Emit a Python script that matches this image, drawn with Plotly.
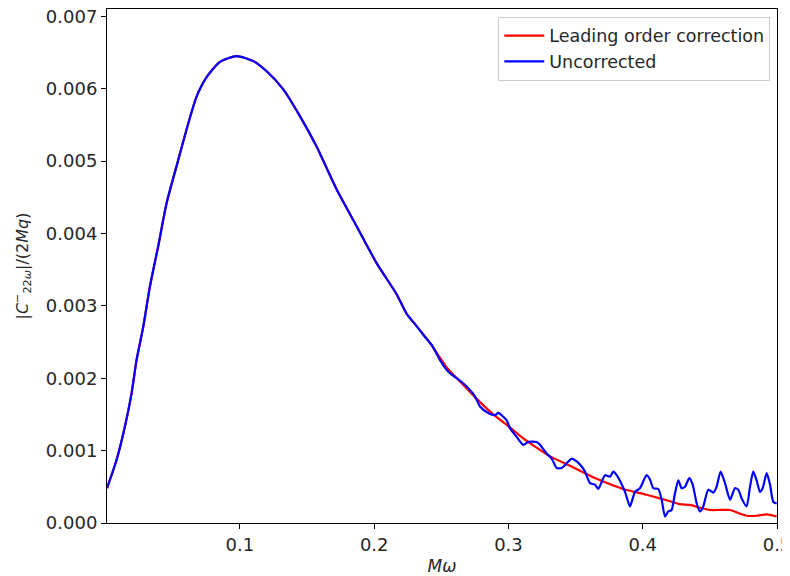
import plotly.graph_objects as go

# Shared smooth part (both curves coincide here)
x_smooth = [0.001, 0.0081, 0.0143, 0.0193, 0.023, 0.028, 0.033, 0.0391, 0.0454,
            0.0528, 0.0603, 0.0677, 0.0752, 0.0851, 0.0975, 0.110, 0.1199, 0.1323,
            0.1447, 0.1571, 0.172, 0.1869, 0.2018, 0.2167, 0.2242]
y_smooth = [0.00048, 0.00087, 0.00133, 0.00179, 0.00225, 0.00271, 0.00327, 0.00382, 0.00442,
            0.00493, 0.00544, 0.00589, 0.00616, 0.00637, 0.00645, 0.00638, 0.00624, 0.00599,
            0.00562, 0.00520, 0.00461, 0.00410, 0.00359, 0.00316, 0.00289]

# Tail of the leading-order-corrected curve
x_red_tail = [0.2316, 0.2415, 0.254, 0.2663, 0.2788, 0.2887, 0.3011, 0.311, 0.3235, 0.331,
              0.3458, 0.3657, 0.3855, 0.4029, 0.4128, 0.4203, 0.4277, 0.4352, 0.4426, 0.45,
              0.4575, 0.465, 0.4724, 0.4774, 0.4848, 0.4923, 0.4998]
y_red_tail = [0.00272, 0.00249, 0.00215, 0.00191, 0.00167, 0.00150, 0.00132, 0.00117, 0.00101, 0.00092,
              0.00079, 0.00061, 0.00047, 0.00039, 0.00034, 0.00030, 0.00026, 0.00025, 0.00021, 0.00018,
              0.00018, 0.00018, 0.00013, 0.00010, 0.00010, 0.00012, 0.00009]

# Tail of the uncorrected (noisy) curve
x_blue_tail = [0.2316, 0.2365, 0.2428, 0.249, 0.2552, 0.2614, 0.2663, 0.2701, 0.275, 0.2788,
               0.2849, 0.29, 0.2924, 0.2986, 0.3011, 0.3061, 0.311, 0.3147, 0.321, 0.3235,
               0.3284, 0.3322, 0.3359, 0.3396, 0.3421, 0.3471, 0.3508, 0.3545, 0.357, 0.3607,
               0.3644, 0.3669, 0.3719, 0.3756, 0.3781, 0.3806, 0.3868, 0.3905, 0.3942, 0.3979,
               0.4029, 0.4054, 0.4079, 0.4116, 0.4141, 0.4166, 0.419, 0.4215, 0.424, 0.4265,
               0.429, 0.4315, 0.4347, 0.4372, 0.4402, 0.4426, 0.4451, 0.4488, 0.4526, 0.455,
               0.458, 0.4613, 0.465, 0.4687, 0.4712, 0.4737, 0.4774, 0.4799, 0.4823, 0.4848,
               0.4873, 0.4893, 0.4923, 0.4948, 0.4973, 0.4998]
y_blue_tail = [0.00272, 0.00260, 0.00246, 0.00225, 0.00209, 0.00200, 0.00193, 0.00186, 0.00175, 0.00161,
               0.00152, 0.00149, 0.00152, 0.00142, 0.00131, 0.00119, 0.00108, 0.00112, 0.00112, 0.00108,
               0.00096, 0.00089, 0.00076, 0.00076, 0.00080, 0.00089, 0.00085, 0.00078, 0.00071, 0.00055,
               0.00053, 0.00047, 0.00066, 0.00064, 0.00071, 0.00066, 0.00043, 0.00023, 0.00043, 0.00048,
               0.00066, 0.00060, 0.00048, 0.00047, 0.00032, 0.00009, 0.00016, 0.00018, 0.00041, 0.00059,
               0.00048, 0.00050, 0.00062, 0.00053, 0.00027, 0.00016, 0.00023, 0.00046, 0.00042, 0.00050,
               0.00071, 0.00055, 0.00032, 0.00048, 0.00046, 0.00034, 0.00023, 0.00050, 0.00071, 0.00059,
               0.00043, 0.00048, 0.00069, 0.00053, 0.00029, 0.00027]

x_ticks = [0.1, 0.2, 0.3, 0.4, 0.5]
y_ticks = [0.000, 0.001, 0.002, 0.003, 0.004, 0.005, 0.006, 0.007]

FONT = "DejaVu Sans"
TXT = "#262626"

fig = go.Figure()
fig.add_trace(go.Scatter(x=x_smooth + x_red_tail, y=y_smooth + y_red_tail, mode="lines",
                         name="Leading order correction",
                         line=dict(color="#ff0000", width=2.2, shape="spline", smoothing=0.6)))
fig.add_trace(go.Scatter(x=x_smooth + x_blue_tail, y=y_smooth + y_blue_tail, mode="lines",
                         name="Uncorrected",
                         line=dict(color="#0000ff", width=2.2, shape="spline", smoothing=0.6)))

axis_common = dict(showline=True, linecolor="black", linewidth=1, mirror=True,
                   ticks="outside", ticklen=5, tickwidth=1, tickcolor="black",
                   showgrid=False, zeroline=False, automargin=False,
                   ticklabeloverflow="allow",
                   tickfont=dict(family=FONT, size=18, color=TXT))

# The page body adds an 8 px offset, so the figure is sized 8 px smaller in each direction
fig.update_layout(
    width=782, height=568,
    margin=dict(l=99, r=13, t=1, b=53),
    paper_bgcolor="white", plot_bgcolor="white",
    font=dict(family=FONT, size=17, color=TXT),
    xaxis=dict(range=[0.001, 0.5], tickvals=x_ticks, ticktext=[f"{v:.1f}" for v in x_ticks],
               title=dict(text="<i>Mω</i>", font=dict(family=FONT, size=17, color=TXT), standoff=6),
               **axis_common),
    yaxis=dict(range=[0, 0.0071], tickvals=y_ticks, ticktext=[f"{v:.3f}" for v in y_ticks],
               title=dict(text="|<i>C</i><sup>−</sup><sub>22<i>ω</i></sub>|/(2<i>Mq</i>)",
                          font=dict(family=FONT, size=16, color=TXT), standoff=13),
               **axis_common),
    legend=dict(x=0.99, y=0.985, xanchor="right", yanchor="top",
                bgcolor="rgba(255,255,255,0.8)", bordercolor="#cccccc", borderwidth=1,
                font=dict(family=FONT, size=17.5, color=TXT),
                itemwidth=40, tracegroupgap=2),
    showlegend=True,
)

fig.write_html("out.html")
